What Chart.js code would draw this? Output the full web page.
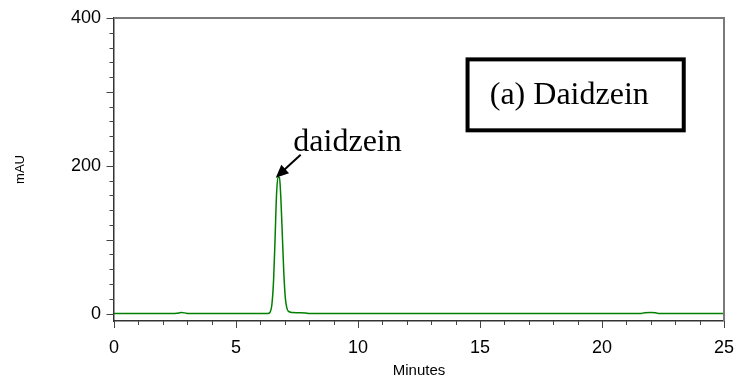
<!DOCTYPE html>
<html lang="en">
<head>
    <meta charset="UTF-8">
    <title>Daidzein chromatogram</title>
    <script src="https://cdn.jsdelivr.net/npm/chart.js"></script>
    <style>
        body {
            margin: 0;
            padding: 0;
            background: #fff;
        }

        #wrap {
            width: 739px;
            height: 385px;
        }
    </style>
</head>
<body>
<div id="wrap">
    <canvas id="chromChart" width="739" height="385"></canvas>
</div>

<script>
    // retention time (min) and detector response (mAU)
    const timeMin = [0, 2.45, 2.6, 2.75, 2.9, 3.05, 6.3, 6.4, 6.47, 6.54, 6.6, 6.66, 6.72, 6.78, 6.84,
        6.9, 6.96, 7.02, 7.08, 7.15, 7.3, 7.6, 7.85, 8.0, 21.55, 21.75, 22.0, 22.2, 22.35, 25];
    const absorbance = [0, 0, 0.6, 1.4, 1.0, 0, 0, 2, 12, 45, 100, 160, 185, 184, 155,
        105, 55, 22, 8, 3, 1.5, 1.2, 0.8, 0, 0, 1.3, 1.6, 1.2, 0, 0];

    const xTicks = [0, 5, 10, 15, 20, 25];
    const yTicks = [0, 200, 400];

    const peakName = 'daidzein';
    const panelTitle = '(a) Daidzein';

    const points = timeMin.map((t, i) => ({x: t, y: absorbance[i]}));

    // frame, minor ticks and the annotations
    const decorations = {
        id: 'decorations',
        afterDraw(chart) {
            const {ctx, chartArea: a, scales: {x, y}} = chart;
            ctx.save();

            // top and right frame
            ctx.strokeStyle = '#7a7a7a';
            ctx.lineWidth = 2;
            ctx.beginPath();
            ctx.moveTo(a.left, a.top);
            ctx.lineTo(a.right, a.top);
            ctx.lineTo(a.right, a.bottom);
            ctx.stroke();

            // tick marks
            ctx.strokeStyle = '#444';
            ctx.lineWidth = 1;
            ctx.beginPath();
            for (let v = 0; v <= 25; v++) {
                const px = Math.round(x.getPixelForValue(v)) + 0.5;
                const len = v % 5 === 0 ? 7 : 4;
                ctx.moveTo(px, a.bottom);
                ctx.lineTo(px, a.bottom + len);
            }
            for (let v = 0; v <= 400; v += 20) {
                const py = Math.round(y.getPixelForValue(v)) + 0.5;
                const len = v % 100 === 0 ? 7.5 : 4.5;
                ctx.moveTo(a.left, py);
                ctx.lineTo(a.left - len, py);
            }
            ctx.stroke();

            // peak label with arrow
            ctx.fillStyle = '#000';
            ctx.strokeStyle = '#000';
            ctx.font = '32px "Liberation Serif", "Times New Roman", serif';
            ctx.textBaseline = 'alphabetic';
            ctx.fillText(peakName, x.getPixelForValue(7.35), y.getPixelForValue(220));

            const x0 = x.getPixelForValue(7.65), y0 = y.getPixelForValue(215);
            const x1 = x.getPixelForValue(6.63), y1 = y.getPixelForValue(184);
            const ang = Math.atan2(y1 - y0, x1 - x0);
            const head = 14;
            ctx.lineWidth = 2;
            ctx.beginPath();
            ctx.moveTo(x0, y0);
            ctx.lineTo(x1 - Math.cos(ang) * head * 0.8, y1 - Math.sin(ang) * head * 0.8);
            ctx.stroke();
            ctx.beginPath();
            ctx.moveTo(x1, y1);
            ctx.lineTo(x1 - head * Math.cos(ang - 0.42), y1 - head * Math.sin(ang - 0.42));
            ctx.lineTo(x1 - head * Math.cos(ang + 0.42), y1 - head * Math.sin(ang + 0.42));
            ctx.closePath();
            ctx.fill();

            // boxed panel title
            const bl = x.getPixelForValue(14.49), br = x.getPixelForValue(23.35);
            const bt = y.getPixelForValue(344), bb = y.getPixelForValue(248);
            ctx.lineWidth = 4;
            ctx.strokeRect(bl, bt, br - bl, bb - bt);
            ctx.fillText(panelTitle, x.getPixelForValue(15.4), y.getPixelForValue(283));

            ctx.restore();
        }
    };

    const ctx = document.getElementById('chromChart').getContext('2d');
    new Chart(ctx, {
        type: 'line',
        data: {
            datasets: [{
                data: points,
                borderColor: '#008000',
                borderWidth: 1.5,
                pointRadius: 0,
                fill: false,
                cubicInterpolationMode: 'monotone'
            }]
        },
        options: {
            responsive: false,
            animation: false,
            layout: {
                padding: {top: 18, right: 15, bottom: 0, left: 0}
            },
            plugins: {
                legend: {display: false},
                tooltip: {enabled: false}
            },
            scales: {
                x: {
                    type: 'linear',
                    min: 0,
                    max: 25,
                    afterBuildTicks: s => { s.ticks = xTicks.map(v => ({value: v})); },
                    afterFit: s => {
                        s.height = 64;
                        s.paddingLeft = 0;
                        s.paddingRight = 0;
                    },
                    grid: {display: false, tickLength: 0},
                    border: {display: true, color: '#333', width: 1.5},
                    ticks: {
                        padding: 16,
                        color: '#000',
                        maxRotation: 0,
                        font: {family: '"Liberation Sans", Arial, sans-serif', size: 18}
                    },
                    title: {
                        display: true,
                        text: 'Minutes',
                        color: '#000',
                        padding: {top: 0, bottom: 5},
                        font: {family: '"Liberation Sans", Arial, sans-serif', size: 15}
                    }
                },
                y: {
                    min: -10,
                    max: 400,
                    afterBuildTicks: s => { s.ticks = yTicks.map(v => ({value: v})); },
                    afterFit: s => {
                        s.width = 114;
                        s.paddingTop = 0;
                        s.paddingBottom = 0;
                    },
                    grid: {display: false, tickLength: 0},
                    border: {display: true, color: '#333', width: 1.5},
                    ticks: {
                        padding: 13,
                        color: '#000',
                        font: {family: '"Liberation Sans", Arial, sans-serif', size: 18}
                    },
                    title: {
                        display: true,
                        text: 'mAU',
                        color: '#000',
                        padding: {top: 13, bottom: 0},
                        font: {family: '"Liberation Sans", Arial, sans-serif', size: 13}
                    }
                }
            }
        },
        plugins: [decorations]
    });
</script>
</body>
</html>
